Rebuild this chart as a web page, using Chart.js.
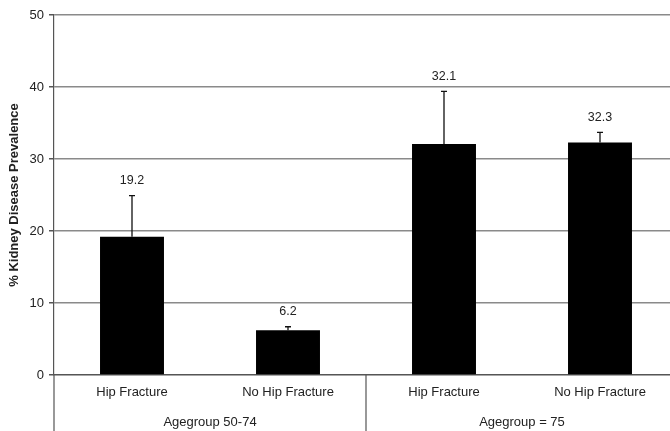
<!DOCTYPE html>
<html>
<head>
<meta charset="utf-8">
<script src="https://cdn.jsdelivr.net/npm/chart.js@4.4.1/dist/chart.umd.min.js"></script>
<style>
  html, body { margin: 0; padding: 0; background: #fff; overflow: hidden; }
  #wrap { width: 670px; height: 431px; overflow: hidden; position: relative; }
  #box { width: 678px; height: 431px; position: absolute; left: 0; top: 0; }
</style>
</head>
<body>
<div id="wrap"><div id="box"><canvas id="c"></canvas></div></div>
<script>
// Categories and group headings
const categories = ['Hip Fracture', 'No Hip Fracture', 'Hip Fracture', 'No Hip Fracture'];
const groups = ['Agegroup 50-74', 'Agegroup = 75'];
const groupSizes = [2, 2];
// Prevalence (%) and upper error
const prevalence = [19.2, 6.2, 32.1, 32.3];
const upperError = [5.7, 0.5, 7.3, 1.4];
const yTicks = [0, 10, 20, 30, 40, 50];

const FONT = 'Liberation Sans, Arial, sans-serif';
const TEXT = '#222';

// Upward error bars, value labels, group headings and axis extensions
const decorations = {
  id: 'decorations',
  afterDatasetsDraw(chart) {
    const ctx = chart.ctx;
    const x = chart.scales.x, y = chart.scales.y;
    const area = chart.chartArea;
    const H = chart.height;
    ctx.save();
    // error bars
    ctx.strokeStyle = '#111';
    ctx.lineWidth = 1.3;
    prevalence.forEach((v, i) => {
      const cx = x.getPixelForValue(i);
      const y0 = y.getPixelForValue(v);
      const y1 = y.getPixelForValue(v + upperError[i]);
      ctx.beginPath();
      ctx.moveTo(cx, y0);
      ctx.lineTo(cx, y1);
      ctx.moveTo(cx - 3, y1);
      ctx.lineTo(cx + 3, y1);
      ctx.stroke();
      // value label
      ctx.fillStyle = TEXT;
      ctx.font = '12.5px ' + FONT;
      ctx.textAlign = 'center';
      ctx.textBaseline = 'middle';
      ctx.fillText(v.toFixed(1), cx, y1 - 15);
    });
    // left axis extended through the label band, group dividers
    ctx.strokeStyle = '#555';
    ctx.lineWidth = 1.2;
    ctx.beginPath();
    ctx.moveTo(area.left, area.bottom);
    ctx.lineTo(area.left, H);
    let idx = 0;
    const step = x.getPixelForValue(1) - x.getPixelForValue(0);
    groups.forEach((g, gi) => {
      const first = x.getPixelForValue(idx) - step / 2;
      idx += groupSizes[gi];
      const last = x.getPixelForValue(idx - 1) + step / 2;
      if (gi < groups.length - 1) {
        ctx.moveTo(last, area.bottom);
        ctx.lineTo(last, H);
      }
      ctx.fillStyle = TEXT;
      ctx.font = '13px ' + FONT;
      ctx.textAlign = 'center';
      ctx.textBaseline = 'middle';
      ctx.fillText(g, (first + last) / 2, area.bottom + 47);
    });
    ctx.stroke();
    ctx.restore();
  }
};

new Chart(document.getElementById('c'), {
  type: 'bar',
  data: {
    labels: categories,
    datasets: [{
      data: prevalence,
      backgroundColor: '#000',
      borderWidth: 0,
      categoryPercentage: 1.0,
      barPercentage: 0.41
    }]
  },
  options: {
    responsive: true,
    maintainAspectRatio: false,
    animation: false,
    layout: { padding: { left: 7, top: 15, right: 0, bottom: 0 } },
    plugins: { legend: { display: false }, tooltip: { enabled: false } },
    scales: {
      x: {
        grid: { display: false, drawTicks: false },
        border: { display: true, color: '#555', width: 1.2 },
        ticks: { color: TEXT, font: { family: FONT, size: 13 }, padding: 10, maxRotation: 0 },
        afterFit(s) { s.height = 56; }
      },
      y: {
        min: 0, max: 50,
        afterBuildTicks(s) { s.ticks = yTicks.map(v => ({ value: v })); },
        grid: { color: '#8a8a8a', lineWidth: 1.5, tickLength: 5, tickColor: '#555' },
        border: { display: true, color: '#555', width: 1.2 },
        ticks: { color: TEXT, font: { family: FONT, size: 13 }, padding: 5 },
        title: { display: true, text: '% Kidney Disease Prevalence', color: TEXT,
                 font: { family: FONT, size: 13, weight: 'bold' }, padding: { top: 0, bottom: 4 } },
        afterFit(s) { s.width = 47; }
      }
    }
  },
  plugins: [decorations]
});
</script>
</body>
</html>
